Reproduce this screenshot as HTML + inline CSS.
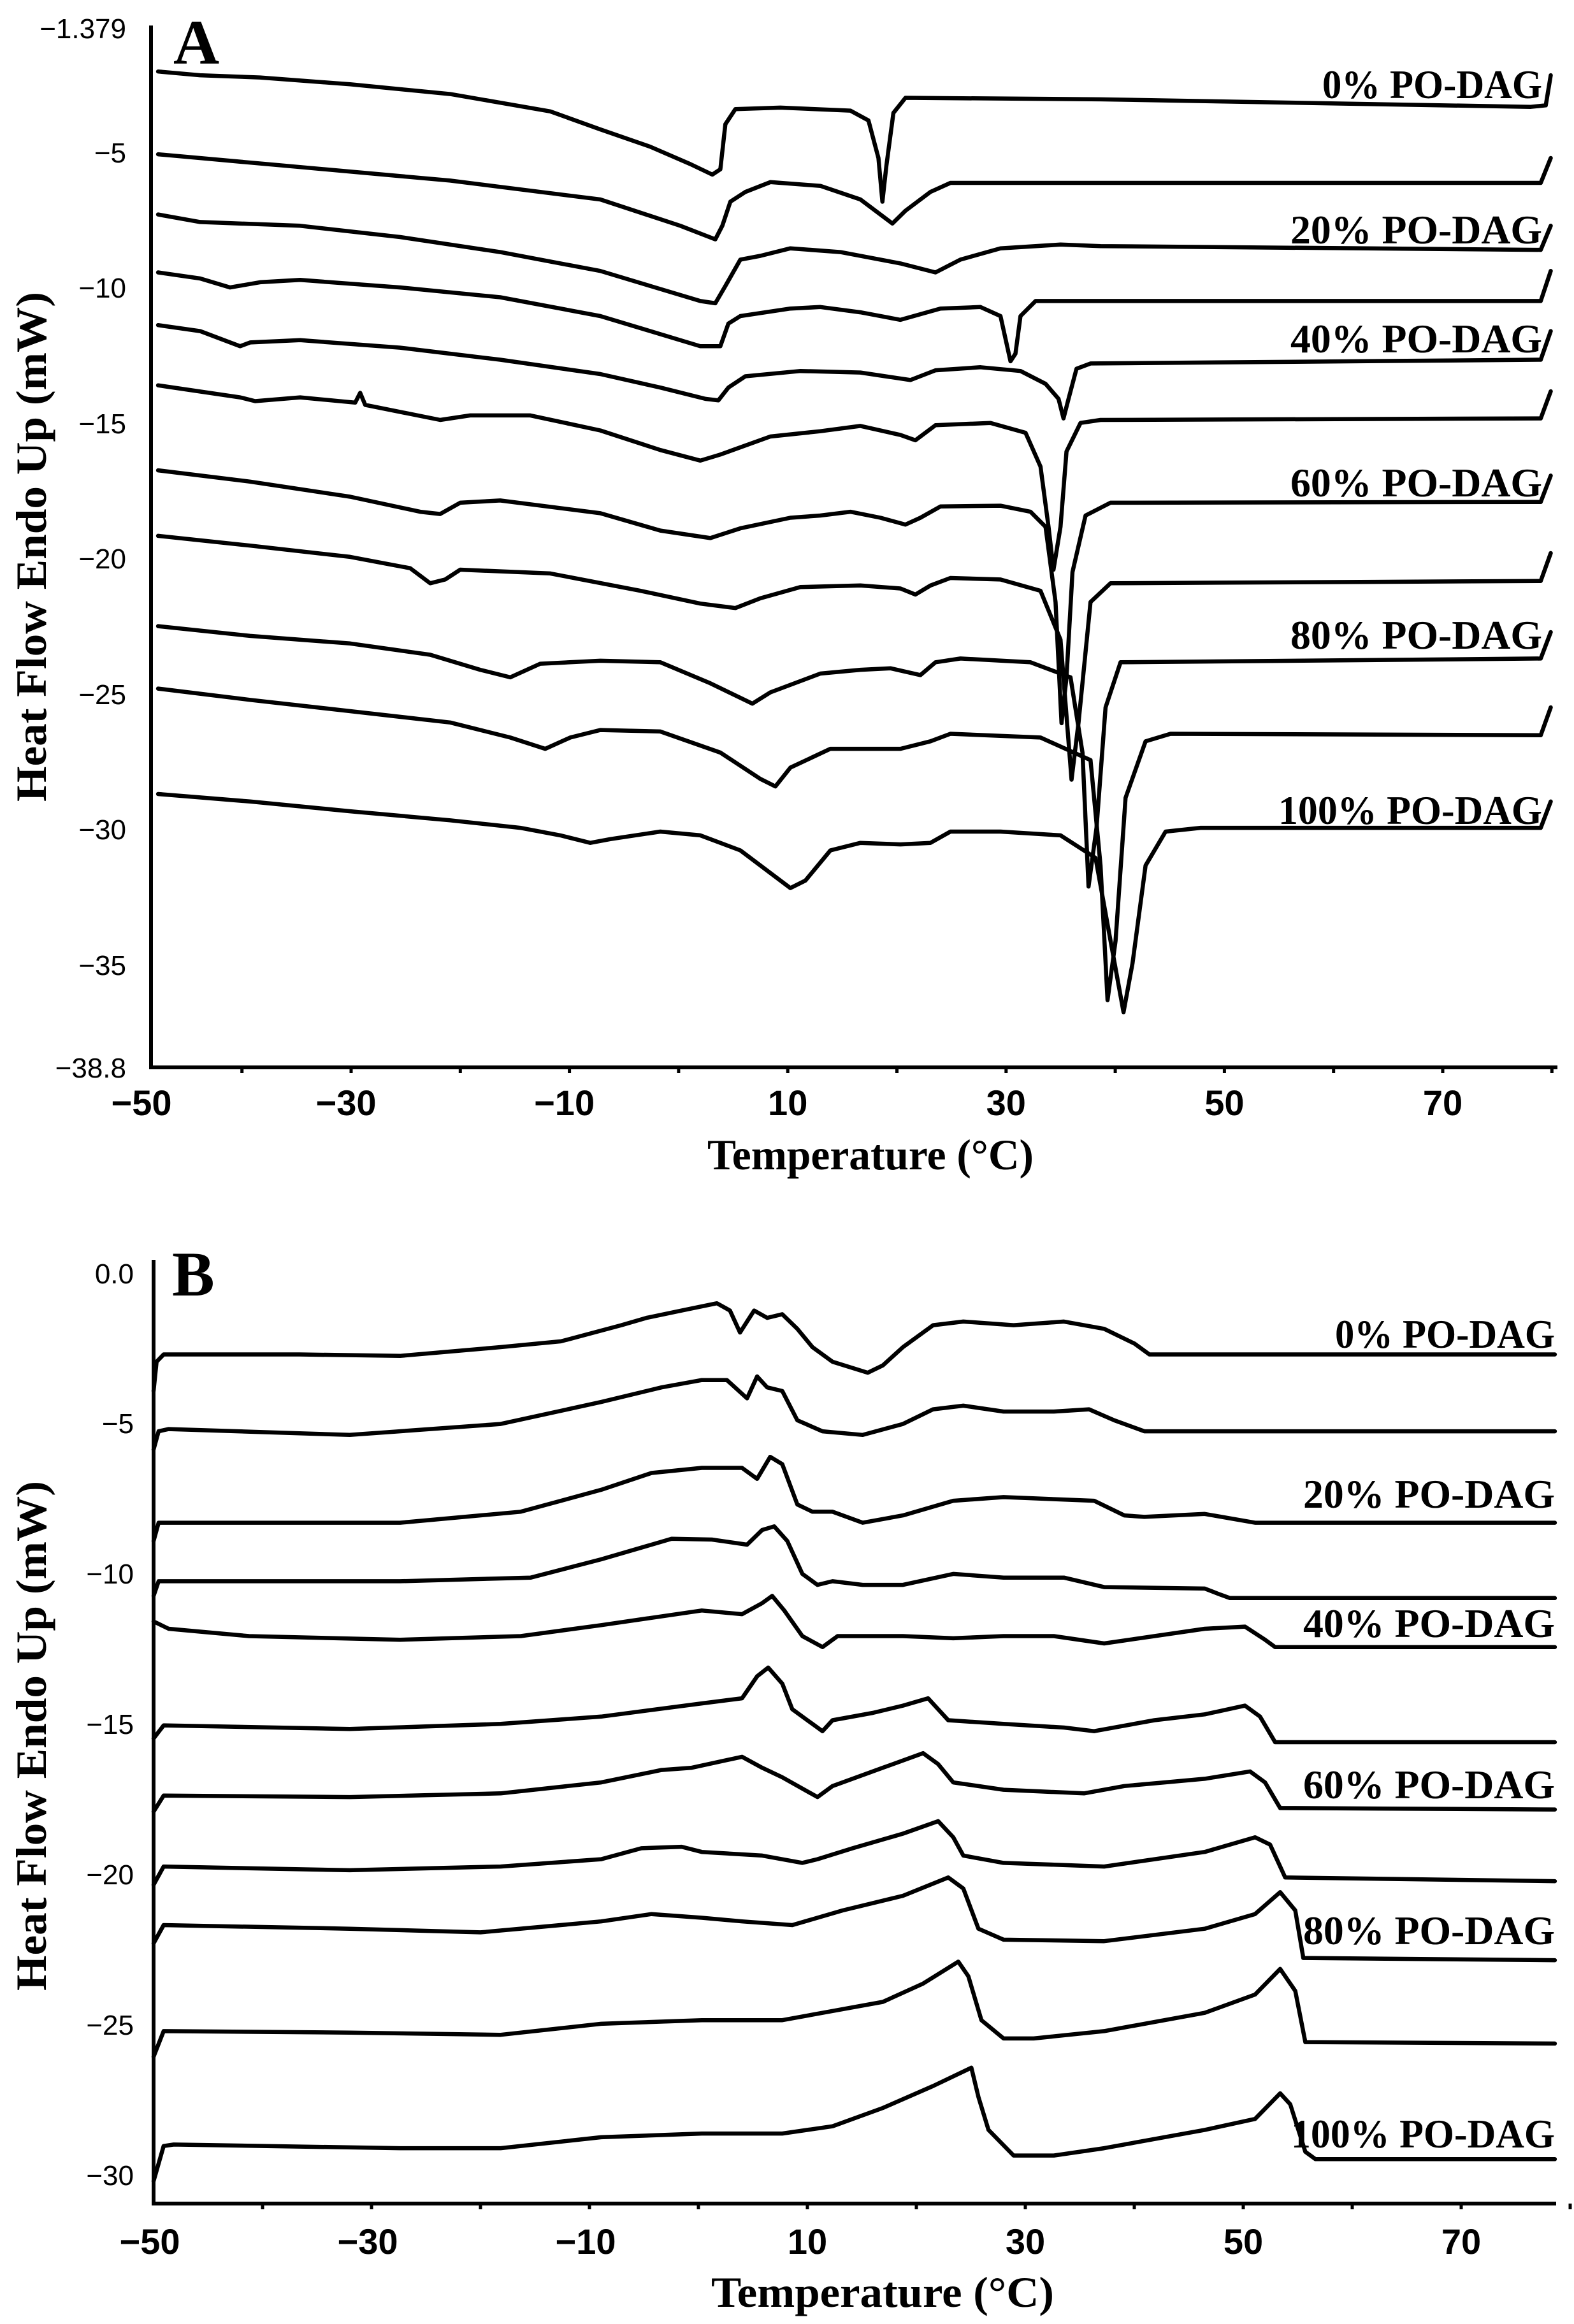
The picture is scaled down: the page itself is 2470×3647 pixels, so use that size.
<!DOCTYPE html>
<html><head><meta charset="utf-8"><style>
html,body{margin:0;padding:0;background:#fff}
svg{display:block}
.t{font-family:"Liberation Sans",sans-serif;fill:#000}
.s{font-family:"Liberation Serif",serif;font-weight:bold;fill:#000}
</style></head><body>
<svg id="c" width="2470" height="3647" viewBox="0 0 2470 3647" xmlns="http://www.w3.org/2000/svg">
<rect width="2470" height="3647" fill="#fff"/>
<g id="curves" fill="none" stroke="#000" stroke-width="6.5" stroke-linejoin="round" stroke-linecap="round"></g>
<g stroke="#000" stroke-width="6" fill="none">
<path d="M237 40 V1675 H2444"/>
<path d="M241 1977 V3458 H2442"/>
</g>
<g id="ticks" stroke="#000" stroke-width="5"></g>
<text class="s" x="272" y="100" font-size="100">A</text>
<text class="s" x="270" y="2033" font-size="100">B</text>
<g class="t" font-size="44" text-anchor="end">
<text x="198" y="60">−1.379</text>
<text x="198" y="255">−5</text>
<text x="198" y="467">−10</text>
<text x="198" y="680">−15</text>
<text x="198" y="892">−20</text>
<text x="198" y="1105">−25</text>
<text x="198" y="1317">−30</text>
<text x="198" y="1530">−35</text>
<text x="198" y="1691">−38.8</text>
<text x="210" y="2014">0.0</text>
<text x="210" y="2249">−5</text>
<text x="210" y="2485">−10</text>
<text x="210" y="2721">−15</text>
<text x="210" y="2957">−20</text>
<text x="210" y="3193">−25</text>
<text x="210" y="3429">−30</text>
</g>
<g class="t" font-size="56" font-weight="bold" text-anchor="middle" id="xl"></g>
<g class="s" font-size="64" text-anchor="end">
<text x="2420" y="154" textLength="345" lengthAdjust="spacingAndGlyphs">0% PO-DAG</text>
<text x="2420" y="382" textLength="395" lengthAdjust="spacingAndGlyphs">20% PO-DAG</text>
<text x="2420" y="553" textLength="395" lengthAdjust="spacingAndGlyphs">40% PO-DAG</text>
<text x="2420" y="779" textLength="395" lengthAdjust="spacingAndGlyphs">60% PO-DAG</text>
<text x="2420" y="1018" textLength="395" lengthAdjust="spacingAndGlyphs">80% PO-DAG</text>
<text x="2420" y="1293" textLength="414" lengthAdjust="spacingAndGlyphs">100% PO-DAG</text>
<text x="2440" y="2115" textLength="345" lengthAdjust="spacingAndGlyphs">0% PO-DAG</text>
<text x="2440" y="2366" textLength="395" lengthAdjust="spacingAndGlyphs">20% PO-DAG</text>
<text x="2440" y="2569" textLength="395" lengthAdjust="spacingAndGlyphs">40% PO-DAG</text>
<text x="2440" y="2822" textLength="395" lengthAdjust="spacingAndGlyphs">60% PO-DAG</text>
<text x="2440" y="3051" textLength="395" lengthAdjust="spacingAndGlyphs">80% PO-DAG</text>
<text x="2440" y="3370" textLength="414" lengthAdjust="spacingAndGlyphs">100% PO-DAG</text>
</g>
<g class="s" font-size="68">
<text x="1110" y="1835" textLength="512" lengthAdjust="spacingAndGlyphs">Temperature (°C)</text>
<text x="1116" y="3620" textLength="538" lengthAdjust="spacingAndGlyphs">Temperature (°C)</text>
<text transform="translate(72,1258) rotate(-90)" textLength="800" lengthAdjust="spacingAndGlyphs">Heat Flow Endo Up (mW)</text>
<text transform="translate(72,3124) rotate(-90)" textLength="800" lengthAdjust="spacingAndGlyphs">Heat Flow Endo Up (mW)</text>
</g>
</svg>
<script>
var A=[
[[158,95],[200,100],[260,103],[350,112],[450,125],[550,148],[600,172],[650,195],[690,218],[712,232],[720,225],[725,165],[735,145],[780,143],[850,147],[868,160],[878,210],[882,268],[886,220],[893,150],[905,130],[1100,132],[1530,142],[1545,140],[1550,100]],
[[158,205],[300,222],[450,240],[600,265],[680,300],[715,318],[722,300],[730,268],[745,255],[770,242],[820,247],[860,265],[880,285],[892,297],[905,280],[930,255],[950,243],[1100,243],[1540,243],[1550,210]],
[[158,285],[200,295],[300,300],[400,315],[500,335],[600,360],[650,380],[700,400],[715,403],[725,380],[740,345],[760,340],[790,330],[840,335],[900,350],[935,362],[960,345],[1000,330],[1060,325],[1100,327],[1540,332],[1550,300]],
[[158,362],[200,370],[230,382],[260,375],[300,372],[400,382],[500,395],[600,420],[650,440],[700,460],[720,460],[728,430],[740,420],[790,410],[820,408],[860,415],[900,425],[940,410],[980,408],[1000,420],[1010,480],[1015,470],[1020,420],[1035,400],[1100,400],[1540,400],[1550,360]],
[[158,432],[200,440],[240,460],[250,455],[300,452],[400,462],[500,478],[600,497],[660,515],[705,530],[718,532],[728,515],[745,500],[800,493],[860,495],[910,505],[935,492],[980,488],[1020,493],[1045,510],[1058,530],[1063,556],[1068,530],[1076,490],[1090,483],[1540,478],[1550,440]],
[[158,512],[240,528],[255,533],[300,528],[355,535],[360,522],[365,538],[440,558],[470,552],[530,552],[600,572],[660,598],[700,612],[720,604],[770,580],[820,573],[860,566],[900,578],[915,585],[935,565],[990,562],[1025,575],[1040,620],[1048,700],[1053,757],[1060,700],[1066,600],[1080,562],[1100,558],[1540,556],[1550,520]],
[[158,625],[250,640],[350,660],[420,680],[440,683],[460,668],[500,665],[600,682],[660,705],[710,715],[740,702],[790,688],[820,685],[850,680],[880,688],[905,697],[920,688],[940,673],[1000,672],[1030,680],[1045,700],[1055,800],[1061,961],[1066,900],[1072,760],[1085,685],[1110,668],[1540,667],[1550,632]],
[[158,712],[250,725],[350,740],[410,755],[430,775],[445,770],[460,757],[550,762],[640,785],[700,802],[735,808],[760,795],[800,780],[860,778],[900,782],[915,790],[930,778],[950,768],[1000,770],[1040,785],[1060,850],[1071,1036],[1078,960],[1090,800],[1110,775],[1540,772],[1550,735]],
[[158,832],[250,845],[350,855],[430,870],[480,890],[510,900],[540,882],[600,878],[660,880],[710,908],[752,935],[770,920],[820,895],[860,890],[890,888],[920,897],[935,880],[960,875],[1030,880],[1070,900],[1082,1000],[1088,1178],[1096,1100],[1105,940],[1120,880],[1540,875],[1550,840]],
[[158,915],[250,930],[350,945],[450,960],[510,980],[545,995],[570,980],[600,970],[660,972],[720,1000],[760,1035],[775,1045],[790,1020],[830,995],[900,995],[930,985],[950,975],[1040,980],[1090,1010],[1100,1150],[1107,1329],[1115,1250],[1125,1060],[1145,985],[1170,975],[1540,977],[1550,940]],
[[158,1055],[250,1065],[350,1078],[450,1090],[520,1100],[560,1110],[590,1120],[610,1115],[660,1105],[700,1110],[740,1130],[770,1160],[790,1180],[805,1170],[830,1130],[860,1120],[900,1122],[930,1120],[950,1105],[1000,1105],[1060,1110],[1095,1140],[1110,1250],[1123,1345],[1132,1280],[1145,1150],[1165,1105],[1200,1100],[1540,1100],[1550,1065]]
];
var B=[
[[155,290],[158,250],[165,240],[300,240],[400,242],[500,230],[560,222],[620,200],[645,190],[680,180],[715,170],[728,180],[738,210],[745,195],[752,180],[765,190],[780,185],[795,205],[810,230],[830,250],[865,265],[880,255],[900,230],[930,200],[960,195],[1010,200],[1060,195],[1100,205],[1130,225],[1145,240],[1300,240],[1548,240]],
[[155,370],[160,345],[170,342],[350,350],[500,335],[600,305],[660,285],[700,275],[725,275],[745,300],[755,270],[765,285],[780,290],[795,330],[820,345],[860,350],[900,335],[930,315],[960,310],[1000,318],[1050,318],[1085,315],[1110,330],[1140,345],[1548,345]],
[[155,495],[160,470],[400,470],[520,455],[600,425],[650,402],[700,395],[740,395],[755,410],[768,380],[780,390],[795,445],[810,455],[830,455],[860,470],[900,460],[950,440],[1000,435],[1090,440],[1120,460],[1140,462],[1200,458],[1250,470],[1548,470]],
[[155,570],[160,550],[400,550],[530,545],[600,520],[670,492],[710,493],[745,500],[760,480],[772,475],[785,495],[800,540],[815,555],[830,550],[860,555],[900,555],[950,540],[1000,545],[1060,545],[1100,558],[1200,560],[1215,568],[1225,573],[1548,573]],
[[155,605],[170,615],[250,625],[400,630],[520,625],[600,610],[700,590],[740,595],[760,580],[770,570],[782,590],[800,625],[820,640],[835,625],[900,625],[950,628],[1000,625],[1050,625],[1100,635],[1150,625],[1200,615],[1240,612],[1260,630],[1270,640],[1548,640]],
[[155,765],[165,747],[350,752],[500,745],[600,735],[700,717],[740,710],[755,680],[766,668],[780,690],[790,725],[810,745],[820,755],[830,740],[870,730],[900,720],[925,710],[945,740],[1000,745],[1060,750],[1090,755],[1150,740],[1200,732],[1240,720],[1255,735],[1270,770],[1548,770]],
[[155,865],[165,843],[350,845],[500,840],[600,825],[660,808],[690,805],[740,790],[760,805],[780,818],[815,845],[830,830],[880,805],[920,785],[935,800],[950,825],[1000,835],[1080,840],[1120,830],[1200,820],[1245,810],[1260,825],[1275,860],[1548,862]],
[[155,965],[165,940],[350,945],[500,940],[600,930],[640,915],[680,913],[700,920],[760,925],[800,935],[815,930],[850,915],[900,895],[935,878],[950,900],[960,925],[1000,935],[1100,940],[1200,920],[1250,900],[1265,910],[1280,955],[1548,960]],
[[155,1045],[165,1020],[350,1025],[480,1030],[600,1015],[650,1005],[700,1010],[740,1015],[790,1020],[840,1000],[900,980],[945,955],[960,970],[975,1025],[1000,1040],[1100,1042],[1200,1025],[1250,1005],[1275,975],[1290,1000],[1298,1065],[1548,1068]],
[[155,1200],[165,1165],[350,1167],[500,1170],[600,1155],[700,1150],[780,1150],[820,1140],[880,1125],[920,1100],[955,1070],[965,1090],[978,1150],[1000,1175],[1030,1175],[1100,1165],[1200,1140],[1250,1115],[1275,1080],[1290,1110],[1300,1180],[1548,1182]],
[[155,1370],[165,1322],[175,1320],[400,1325],[500,1325],[600,1310],[700,1305],[780,1305],[830,1295],[880,1270],[930,1240],[968,1215],[975,1255],[985,1300],[1010,1335],[1050,1335],[1100,1325],[1200,1300],[1250,1285],[1275,1250],[1285,1265],[1300,1330],[1310,1340],[1548,1340]]
];
var NS="http://www.w3.org/2000/svg",g=document.getElementById("curves");
function add(pts,fx,fy){var d="";pts.forEach(function(p,i){d+=(i?"L":"M")+fx(p[0]).toFixed(1)+" "+fy(p[1]).toFixed(1)});var e=document.createElementNS(NS,"path");e.setAttribute("d",d);g.appendChild(e);}
A.forEach(function(c){add(c,function(x){return x*1.57},function(y){return y*1.181})});
B.forEach(function(c){add(c,function(x){return 241+(x-155)*1.5785},function(y){return 1850+y*1.148})});
var tk=document.getElementById("ticks"),xl=document.getElementById("xl");
for(var T=-40;T<=80;T+=10){var xa=551+(T+30)*17.13,xb=241+(T+50)*17.1;
 [[xa,1675],[xb,3458]].forEach(function(q){var l=document.createElementNS(NS,"line");l.setAttribute("x1",q[0]);l.setAttribute("x2",q[0]);l.setAttribute("y1",q[1]);l.setAttribute("y2",q[1]+9);tk.appendChild(l);});}
[-50,-30,-10,10,30,50,70].forEach(function(T){
 var xa=(T==-50)?222:551+(T+30)*17.13+(T<0?-8:0),xb=241+(T+50)*17.1+(T<0?-6:0);
 [[xa,1750],[xb,3537]].forEach(function(q){var t=document.createElementNS(NS,"text");t.setAttribute("x",q[0]);t.setAttribute("y",q[1]);t.textContent=(T<0?"−":"")+Math.abs(T);xl.appendChild(t);});});
</script>
</body></html>
